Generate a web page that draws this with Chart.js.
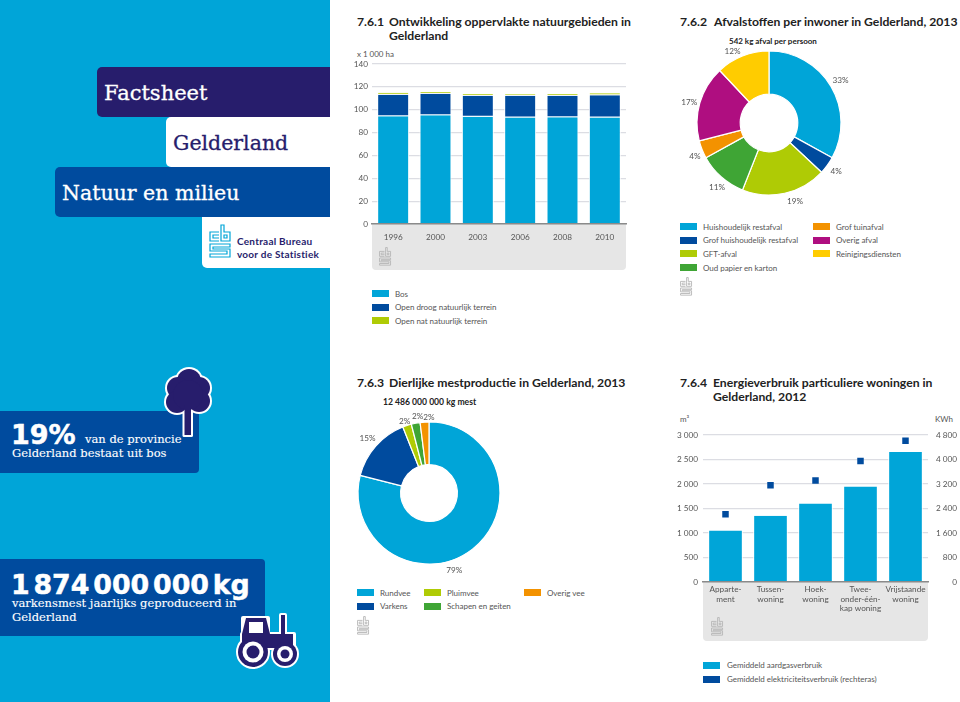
<!DOCTYPE html>
<html><head><meta charset="utf-8">
<script src="https://cdn.jsdelivr.net/npm/chart.js@4"></script>
<style>
html,body{margin:0;padding:0;background:#fff}
#page{position:relative;width:960px;height:702px;overflow:hidden;background:#fff;font-family:Lato,sans-serif}
.b{position:absolute}
.t{position:absolute;white-space:nowrap;line-height:1;transform:translateY(-50%)}
canvas{position:absolute}
.title{font:700 12.2px Lato,sans-serif;color:#222}
.leg{font:400 8px Lato,sans-serif;color:#555;letter-spacing:-.03px}
.sub{font:700 8px Lato,sans-serif;color:#222}
.serif{font-family:"DejaVu Serif",serif;-webkit-text-stroke:.3px currentColor}
.small{-webkit-text-stroke:.12px currentColor}
</style></head><body><div id="page"></div>
<script>
const CYAN='#00a5d8',BLUE='#004b9e',NAVY='#271d6c',LIME='#afcb05',GREEN='#3fa535',ORANGE='#f39200',MAGENTA='#af0e80',YELLOW='#ffcc00';
const GRID='#dcdde3',TICK='#555',AXIS='#8a8a8a',PANEL='#e6e6e6';

// 7.6.1
const areaYears=['1996','2000','2003','2006','2008','2010'];
const areaBos=[94.3,95.2,93.7,93.1,93.4,93.1];
const areaDroog=[18.8,18.8,18.5,19.1,18.8,19.4];
const areaNat=[1.7,1.4,1.5,1.2,1.5,1.8];
// 7.6.2
const wasteLabels=['Huishoudelijk restafval','Grof huishoudelijk restafval','GFT-afval','Oud papier en karton','Grof tuinafval','Overig afval','Reinigingsdiensten'];
const wasteValues=[33,4,19,11,4,17,12];
// 7.6.3
const manureLabels=['Rundvee','Varkens','Pluimvee','Schapen en geiten','Overig vee'];
const manureValues=[79,15,2,2,2];
// 7.6.4
const homeLabels=[['Apparte-','ment'],['Tussen-','woning'],['Hoek-','woning'],['Twee-','onder-één-','kap woning'],['Vrijstaande','woning']];
const gasValues=[1050,1350,1600,1950,2650];
const elecValues=[2210,3160,3310,3950,4610];

const page=document.getElementById('page');
function box(x,y,w,h,bg,r){const d=document.createElement('div');d.className='b';d.style.cssText=`left:${x}px;top:${y}px;width:${w}px;height:${h}px;background:${bg};border-radius:${r||0}`;page.appendChild(d);return d}
function txt(x,y,s,cls,css){const d=document.createElement('div');d.className='t '+(cls||'');d.style.left=x+'px';d.style.top=y+'px';if(css)d.style.cssText+=';'+css;d.textContent=s;page.appendChild(d);return d}

// left band
box(0,0,330,702,CYAN);
box(97,67,233,50,NAVY,'5px 0 0 5px');
box(166,117,164,50,'#fff','5px 0 0 5px');
box(55,167,275,50,BLUE,'5px 0 0 5px');
box(202,217,128,51,'#fff','0 0 0 5px');
box(0,411,199,62,BLUE,'0 4px 4px 0');
box(0,559,265,77,BLUE,'0 4px 4px 0');
txt(104,92.5,'Factsheet','serif','color:#fff;font-size:21px');
txt(173,142.5,'Gelderland','serif','color:'+NAVY+';font-size:20.5px');
txt(62,193,'Natuur en milieu','serif','color:#fff;font-size:20.5px');
txt(237,241,'Centraal Bureau','', 'font:700 10px Lato,sans-serif;color:'+NAVY+';letter-spacing:.25px');
txt(237,254,'voor de Statistiek','', 'font:700 10px Lato,sans-serif;color:'+NAVY+';letter-spacing:.25px');
txt(11,434,'19%','', 'font:900 27px "DejaVu Sans",sans-serif;color:#fff;-webkit-text-stroke:.5px #fff');
txt(85,440,'van de provincie','serif small','color:#fff;font-size:11.5px');
txt(12,454,'Gelderland bestaat uit bos','serif small','color:#fff;font-size:11.5px');
txt(11,584,'1 874 000 000 kg','', 'font:900 26.8px "DejaVu Sans",sans-serif;color:#fff;word-spacing:-5.5px;-webkit-text-stroke:.5px #fff');
txt(12,604,'varkensmest jaarlijks geproduceerd in','serif small','color:#fff;font-size:11.5px');
txt(12,618,'Gelderland','serif small','color:#fff;font-size:11.5px');

// decoration layer
const logo=(x,y,s,c,w)=>`<g transform="translate(${x} ${y}) scale(${s})" fill="none" stroke="${c}" stroke-width="${w}"><path d="M10 8H1V17H10M10 11H4V14H10"/><path d="M12 1V17H21V8H15V1Z"/><path d="M15 11H18V14H15Z"/><path d="M21 20H1V27H18V30H1V33H21V25H4V23H21Z"/></g>`;
const svgNS=`<svg xmlns="http://www.w3.org/2000/svg" width="960" height="702" style="position:absolute;left:0;top:0;z-index:3;pointer-events:none">`;
const crown=[[189,381,12],[178,388,11],[199,388,11],[177,402,11],[199,401,11],[188,395,15]];
let deco=svgNS;
deco+=logo(209,224,1,CYAN,1.2);
[[379,247],[680,277],[357,616],[711,617]].forEach(p=>{deco+=logo(p[0],p[1],.55,'#b5b5b5',1.6)});
crown.forEach(c=>deco+=`<circle cx="${c[0]}" cy="${c[1]}" r="${c[2]+2}" fill="#fff"/>`);
deco+=`<rect x="182.5" y="408" width="10.5" height="29" rx="1.5" fill="#fff"/>`;
crown.forEach(c=>deco+=`<circle cx="${c[0]}" cy="${c[1]}" r="${c[2]}" fill="${NAVY}"/>`);
deco+=`<rect x="184.5" y="405" width="6.5" height="30" fill="${NAVY}"/>`;
deco+=`<g stroke="#fff" stroke-width="4" fill="#fff" stroke-linejoin="round"><rect x="243" y="618" width="25" height="20"/><rect x="242" y="634" width="52" height="14"/><rect x="281" y="615" width="4" height="22"/><circle cx="253" cy="652" r="15"/><circle cx="285" cy="654" r="12"/></g>`;
deco+=`<g fill="${NAVY}"><path d="M246 618H266L270 634H293V648H242V634Z"/><rect x="281" y="615" width="4" height="22"/><circle cx="253" cy="652" r="15"/><circle cx="285" cy="654" r="12"/></g>`;
deco+=`<rect x="249" y="622" width="14" height="11" fill="#fff"/><circle cx="253" cy="652" r="10.5" fill="#fff"/><circle cx="253" cy="652" r="6.5" fill="${NAVY}"/><circle cx="285" cy="654" r="8" fill="#fff"/><circle cx="285" cy="654" r="4.5" fill="${NAVY}"/></svg>`;
const dl=document.createElement('div');dl.innerHTML=deco;page.appendChild(dl);

// axis panels (behind charts)
box(372,224,254,46,PANEL,'0 0 4px 4px');
box(703,582,225,59,PANEL,'0 0 4px 4px');

// titles
txt(357,21,'7.6.1','title');txt(389,21,'Ontwikkeling oppervlakte natuurgebieden in','title');txt(389,35,'Gelderland','title');
txt(680,21,'7.6.2','title');txt(714,21,'Afvalstoffen per inwoner in Gelderland, 2013','title');
txt(357,382,'7.6.3','title');txt(389,382,'Dierlijke mestproductie in Gelderland, 2013','title');
txt(680,382,'7.6.4','title');txt(713,382,'Energieverbruik particuliere woningen in','title');txt(713,395.5,'Gelderland, 2012','title');
txt(729,41,'542 kg afval per persoon','sub');
txt(383,402,'12 486 000 000 kg mest','sub','font-size:8.6px');
txt(357,54,'x 1 000 ha','leg');
txt(680,419,'m³','leg');
txt(935,419,'KWh','leg');

// legends
function legend(items){items.forEach(i=>{box(i[0],i[1]-3.5,17,7,i[3]);txt(i[0]+(i[4]||23),i[1],i[2],'leg')})}
legend([[372,293.5,'Bos',CYAN],[372,307,'Open droog natuurlijk terrein',BLUE],[372,320.5,'Open nat natuurlijk terrein',LIME]]);
const wasteColors=[CYAN,BLUE,LIME,GREEN,ORANGE,MAGENTA,YELLOW];
const wastePos=[[680,226.5],[680,240],[680,253.5],[680,267.5],[813,226.5],[813,240],[813,253.5]];
legend(wasteLabels.map((l,i)=>[wastePos[i][0],wastePos[i][1],l,wasteColors[i]]));
const manureColors=[CYAN,BLUE,LIME,GREEN,ORANGE];
const manurePos=[[357,592.5],[357,606],[424,592.5],[424,606],[524,592.5]];
legend(manureLabels.map((l,i)=>[manurePos[i][0],manurePos[i][1],l,manureColors[i]]));
legend([[703,665,'Gemiddeld aardgasverbruik',CYAN,24],[703,679,'Gemiddeld elektriciteitsverbruik (rechteras)',BLUE,24]]);

function cv(x,y,w,h){const c=document.createElement('canvas');c.width=w;c.height=h;c.style.cssText=`left:${x}px;top:${y}px;width:${w}px;height:${h}px`;page.appendChild(c);return c}
const tickFont={family:'Lato,sans-serif',size:8.2,weight:'400'};
const spaced=v=>String(v).replace(/\B(?=(\d{3})+$)/g,' ');
const fixW=w=>s=>{s.width=w};const fixH=h=>s=>{s.height=h};
const sideAndBase={left:1,right:1,bottom:1,top:0};
const sideOnly={left:1,right:1,bottom:0,top:0};

new Chart(cv(350,55,280,189),{type:'bar',
 data:{labels:areaYears,datasets:[
  {label:'Bos',data:areaBos,backgroundColor:CYAN,borderWidth:sideOnly},
  {label:'Open droog natuurlijk terrein',data:areaDroog,backgroundColor:BLUE,borderWidth:sideAndBase},
  {label:'Open nat natuurlijk terrein',data:areaNat,backgroundColor:LIME,borderWidth:sideAndBase}
 ].map(d=>({...d,borderColor:'#fff',borderSkipped:false,categoryPercentage:1,barPercentage:.755}))},
 options:{responsive:false,animation:false,layout:{padding:{top:7,right:4}},
  plugins:{legend:{display:false},tooltip:{enabled:false}},
  scales:{
   x:{stacked:true,afterFit:fixH(20),grid:{display:false,drawTicks:false},border:{color:AXIS,width:1.5,z:1},ticks:{color:TICK,font:tickFont,padding:8,maxRotation:0}},
   y:{stacked:true,min:0,max:140,afterFit:fixW(22),border:{display:false},grid:{color:GRID,lineWidth:1.2,drawTicks:false},ticks:{stepSize:20,color:TICK,font:tickFont,padding:4}}
  }}});

const donutLabels={id:'donutLabels',afterDatasetsDraw(c,a,o){const m=c.getDatasetMeta(0),ctx=c.ctx,vals=c.data.datasets[0].data;ctx.save();ctx.font='400 8.2px Lato,sans-serif';ctx.fillStyle=TICK;ctx.textAlign='center';ctx.textBaseline='middle';
 m.data.forEach((arc,i)=>{const p=arc.getProps(['x','y','startAngle','endAngle','outerRadius']),ang=(p.startAngle+p.endAngle)/2,r=p.outerRadius+o.gap,n=o.nudge[i]||[0,0];ctx.fillText(vals[i]+'%',p.x+Math.cos(ang)*r+n[0],p.y+Math.sin(ang)*r+n[1])});ctx.restore()}};
function donut(canvas,labels,values,colors,R,nudge){return new Chart(canvas,{type:'doughnut',plugins:[donutLabels],
 data:{labels,datasets:[{data:values,backgroundColor:colors,borderColor:'#fff',borderWidth:1.2}]},
 options:{responsive:false,animation:false,radius:R,cutout:'40%',plugins:{legend:{display:false},tooltip:{enabled:false},donutLabels:{gap:11,nudge}}}})}
donut(cv(659,13,220,220),wasteLabels,wasteValues,wasteColors,72,[[0,0],[0,0],[8,-3],[3,2],[3,3],[0,3],[-6,6]]);
donut(cv(319,383,220,220),manureLabels,manureValues,manureColors,71,[[-25,13],[0,0],[1,6],[4,4],[5,6]]);

new Chart(cv(672,425,285,197),{type:'bar',
 data:{labels:homeLabels,datasets:[
  {type:'line',label:'Gemiddeld elektriciteitsverbruik (rechteras)',data:elecValues,yAxisID:'y2',showLine:false,pointStyle:'rect',pointRadius:4.6,pointBackgroundColor:BLUE,pointBorderWidth:0,order:0},
  {label:'Gemiddeld aardgasverbruik',data:gasValues,yAxisID:'y',backgroundColor:CYAN,borderColor:'#fff',borderWidth:sideOnly,borderSkipped:false,categoryPercentage:1,barPercentage:.77,order:1}
 ]},
 options:{responsive:false,animation:false,layout:{padding:{top:7}},
  plugins:{legend:{display:false},tooltip:{enabled:false}},
  scales:{
   x:{afterFit:fixH(40),grid:{display:false,drawTicks:false},border:{color:AXIS,width:1.5,z:1},ticks:{color:TICK,font:{...tickFont,lineHeight:1.16},padding:3,maxRotation:0,autoSkip:false}},
   y:{min:0,max:3000,afterFit:fixW(31),border:{display:false},grid:{color:GRID,lineWidth:1.2,drawTicks:false},ticks:{stepSize:500,color:TICK,font:tickFont,padding:5,callback:spaced}},
   y2:{position:'right',min:0,max:4800,afterFit:fixW(29),border:{display:false},grid:{display:false,drawTicks:false},ticks:{stepSize:800,color:TICK,font:tickFont,padding:4,crossAlign:'far',callback:spaced}}
  }}});
</script></body></html>
